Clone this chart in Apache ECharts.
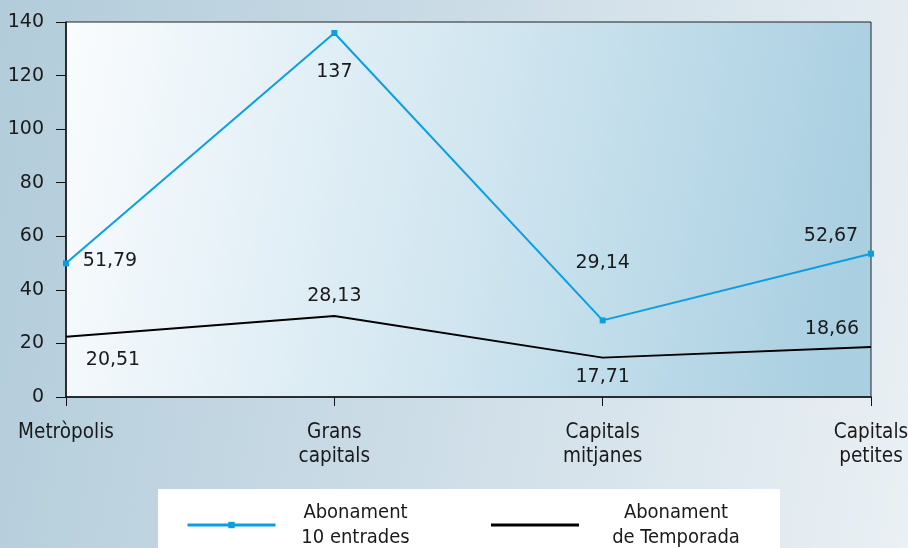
<!DOCTYPE html>
<html>
<head>
<meta charset="utf-8">
<script src="https://cdn.jsdelivr.net/npm/echarts@6/dist/echarts.min.js"></script>
<style>
  html, body { margin: 0; padding: 0; }
  body { background: linear-gradient(100deg, #b2ccda 0%, #cddde7 50%, #eaf0f4 100%); }
  #main { width: 908px; height: 548px; }
</style>
</head>
<body>
<div id="main"></div>
<script>
// categories and values
var categories = ['Metròpolis', 'Grans\ncapitals', 'Capitals\nmitjanes', 'Capitals\npetites'];
var seriesNames = ['Abonament\n10 entrades', 'Abonament\nde Temporada'];
var abonament10 = [49.9, 135.9, 28.6, 53.5];
var abonament10Labels = ['51,79', '137', '29,14', '52,67'];
var temporada = [22.5, 30.2, 14.7, 18.7];
var temporadaLabels = ['20,51', '28,13', '17,71', '18,66'];

// where each value label sits relative to its point
var offsets10 = [[44, -2], [0, 39], [0, -57], [-40, -18]];
var offsetsTemp = [[47, 23], [0, -20], [0, 19], [-39, -18]];

var narrow = '"DejaVu Sans Condensed", "Liberation Sans Narrow", "Roboto Condensed", sans-serif';

var myChart = echarts.init(document.getElementById('main'));

function points(values, texts, offs) {
  return values.map(function (v, i) {
    return {
      value: v,
      label: {
        show: true,
        position: 'inside',
        offset: offs[i],
        formatter: texts[i]
      }
    };
  });
}

var labelFont = {
  fontFamily: 'DejaVu Sans',
  fontSize: 19,
  color: '#1a1a1a'
};

var option = {
  animation: false,
  grid: {
    left: 66,
    right: 37,
    top: 22,
    bottom: 151,
    outerBoundsMode: 'none',
    show: true,
    borderColor: '#222',
    borderWidth: 1,
    backgroundColor: new echarts.graphic.LinearGradient(0, 0, 1, 0.4, [
      { offset: 0, color: '#fafcfe' },
      { offset: 0.5, color: '#d3e7f1' },
      { offset: 1, color: '#a9cfe1' }
    ])
  },
  legend: {
    left: 158,
    top: 489,
    backgroundColor: '#fff',
    padding: [11, 12, 20, 28],
    itemWidth: 88,
    itemHeight: 8,
    itemGap: 59,
    data: [
      { name: seriesNames[0], textStyle: { width: 150 }, lineStyle: { width: 3 } },
      { name: seriesNames[1], textStyle: { width: 184 }, lineStyle: { width: 3 }, itemStyle: { color: 'rgba(0,0,0,0)' } }
    ],
    formatter: function (name) {
      return name.split('\n').map(function (s) { return '{c|' + s + '}'; }).join('\n');
    },
    textStyle: {
      fontFamily: narrow,
      fontSize: 20,
      lineHeight: 25,
      color: '#1a1a1a',
      rich: {
        c: {
          align: 'center',
          fontFamily: narrow,
          fontSize: 20,
          lineHeight: 25,
          color: '#1a1a1a'
        }
      }
    }
  },
  xAxis: {
    type: 'category',
    data: categories,
    boundaryGap: false,
    axisLine: { lineStyle: { color: '#111', width: 1.5 } },
    axisTick: { show: true, length: 9, lineStyle: { color: '#111' } },
    axisLabel: {
      margin: 24,
      fontFamily: narrow,
      fontSize: 20.5,
      lineHeight: 24,
      color: '#1a1a1a'
    },
    splitLine: { show: false }
  },
  yAxis: {
    type: 'value',
    min: 0,
    max: 140,
    interval: 20,
    axisLine: { show: true, lineStyle: { color: '#111', width: 1.5 } },
    axisTick: { show: true, length: 10, lineStyle: { color: '#111' } },
    axisLabel: {
      margin: 22,
      fontFamily: 'DejaVu Sans',
      fontSize: 19,
      color: '#1a1a1a'
    },
    splitLine: { show: false }
  },
  series: [
    {
      name: seriesNames[0],
      type: 'line',
      data: points(abonament10, abonament10Labels, offsets10),
      symbol: 'rect',
      symbolSize: 6,
      color: '#0a9fe0',
      lineStyle: { width: 2, color: '#0a9fe0' },
      itemStyle: { color: '#0a9fe0' },
      label: labelFont
    },
    {
      name: seriesNames[1],
      type: 'line',
      data: points(temporada, temporadaLabels, offsetsTemp),
      symbol: 'circle',
      symbolSize: 1,
      color: '#000',
      lineStyle: { width: 2, color: '#000' },
      itemStyle: { color: 'rgba(0,0,0,0)' },
      label: labelFont
    }
  ]
};

myChart.setOption(option);
</script>
</body>
</html>
